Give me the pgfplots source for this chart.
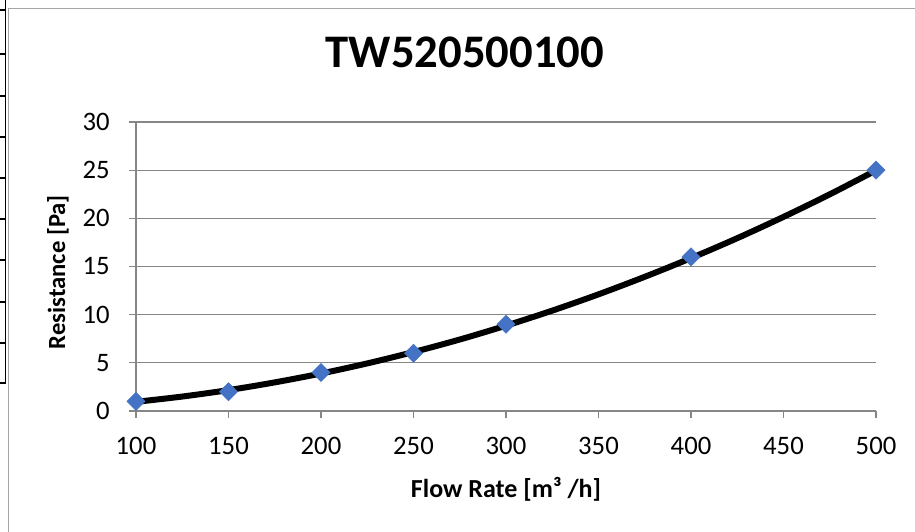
\documentclass[border=0pt]{standalone}
\usepackage{fontspec}
\setmainfont{Carlito}
\usepackage{pgfplots}
\pgfplotsset{compat=1.18}
\definecolor{excelblue}{HTML}{4472C4}
\definecolor{gridgray}{HTML}{868686}
\definecolor{framegray}{HTML}{A6A6A6}

\begin{document}
\begin{tikzpicture}[x=0.75pt,y=0.75pt]
\path[use as bounding box] (0,0) rectangle (915,532);
% chart area frame
\draw[framegray, line width=1pt] (8.5,0) -- (8.5,523.5) -- (915,523.5);
% edge of the sheet table on the left
\draw[black, line width=1pt] (5.5,532) -- (5.5,149);
\foreach \yy in {522,478,436,395,354,313,272,230,189,149}
  \draw[black, line width=1pt] (0,\yy) -- (5.5,\yy);
% title
\node[anchor=base, font=\bfseries\fontsize{35}{40}\selectfont, inner sep=0pt]
  at (465,464) {TW520500100};

\begin{axis}[
  at={(102pt,90.75pt)}, anchor=south west,
  scale only axis, width=555pt, height=216.75pt,
  xmin=100, xmax=500, ymin=0, ymax=30,
  xtick={100,150,...,500}, ytick={0,5,...,30},
  axis lines=left, axis line style={gridgray, line width=1pt, -},
  tick style={gridgray, line width=1pt},
  tick align=outside, major tick length=5.25pt,
  ymajorgrids, grid style={gridgray, line width=1pt},
  ticklabel style={font=\fontsize{20}{24}\selectfont},
  xticklabel style={yshift=-11pt},
  yticklabel style={xshift=-11pt},
  /pgf/number format/assume math mode=true,
  xlabel={Flow Rate [m³ /h]},
  ylabel={Resistance [Pa]},
  xlabel style={font=\bfseries\fontsize{19.5}{23}\selectfont,
    at={(axis description cs:0.5,-0.2976)}, anchor=base},
  ylabel style={font=\bfseries\fontsize{18.5}{22}\selectfont,
    at={(axis description cs:-0.1054,0.48)}, anchor=center},
  clip=false,
]
\addplot[only marks, mark=square*, mark size=4.8pt,
  mark options={rotate=45}, color=excelblue]
  coordinates {(100,1) (150,2) (200,4) (250,6) (300,9) (400,16) (500,25)};
% power trendline as drawn in the chart
\addplot[black, line width=4.5pt, smooth, no markers]
  coordinates {(100,0.95) (125,1.50) (150,2.17) (175,2.97) (200,3.89)
    (225,4.94) (250,6.12) (275,7.42) (300,8.86) (325,10.42) (350,12.11)
    (375,13.93) (400,15.87) (425,17.94) (450,20.15) (475,22.49) (500,24.98)};
\end{axis}
\end{tikzpicture}
\end{document}
